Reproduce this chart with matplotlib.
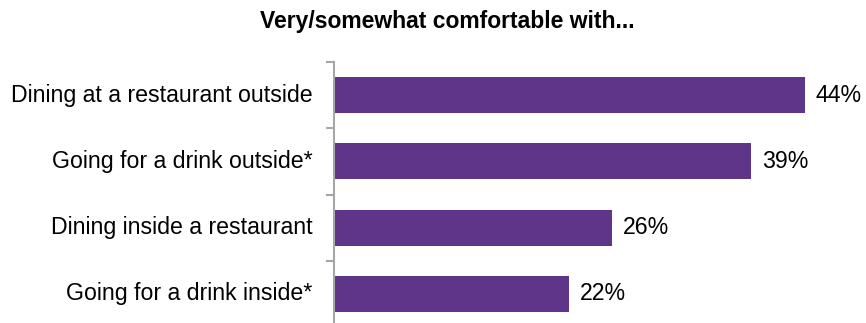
import matplotlib
matplotlib.use("Agg")
from matplotlib import pyplot as plt

plt.rcParams['font.family'] = ['Liberation Sans', 'DejaVu Sans']

categories = ['Dining at a restaurant outside', 'Going for a drink outside*',
              'Dining inside a restaurant', 'Going for a drink inside*']
values = [44, 39, 26, 22]
value_labels = ['44%', '39%', '26%', '22%']
title = 'Very/somewhat comfortable with...'

bar_color = '#5E3589'
axis_color = '#A6A6A6'

fig = plt.figure(figsize=(8.66, 3.23), dpi=100)
ax = fig.add_axes([334 / 866, -4 / 323, 532 / 866, 265 / 323])

ypos = list(range(len(categories)))
ax.barh(ypos, values, height=0.54, color=bar_color)
ax.set_ylim(len(categories) - 0.5, -0.5)
ax.set_xlim(0, 49.7)

for y, v, lab in zip(ypos, values, value_labels):
    ax.text(v + 1.0, y, lab, va='center', ha='left', fontsize=16.7, color='black')

# category labels
for y, c in zip(ypos, categories):
    ax.text(-2.0, y, c, va='center', ha='right', fontsize=16.7, color='black')

ax.set_yticks([i - 0.5 for i in range(len(categories) + 1)])
ax.set_yticklabels([])
ax.tick_params(axis='y', direction='out', length=6, width=1.5, color=axis_color, left=True)
ax.set_xticks([])

for s in ['top', 'right', 'bottom']:
    ax.spines[s].set_visible(False)
ax.spines['left'].set_color(axis_color)
ax.spines['left'].set_linewidth(1.5)

fig.text(447 / 866, 1 - 28 / 323, title, ha='center', va='baseline', fontsize=16.5, fontweight='bold')

fig.savefig('out.png', dpi=100)
